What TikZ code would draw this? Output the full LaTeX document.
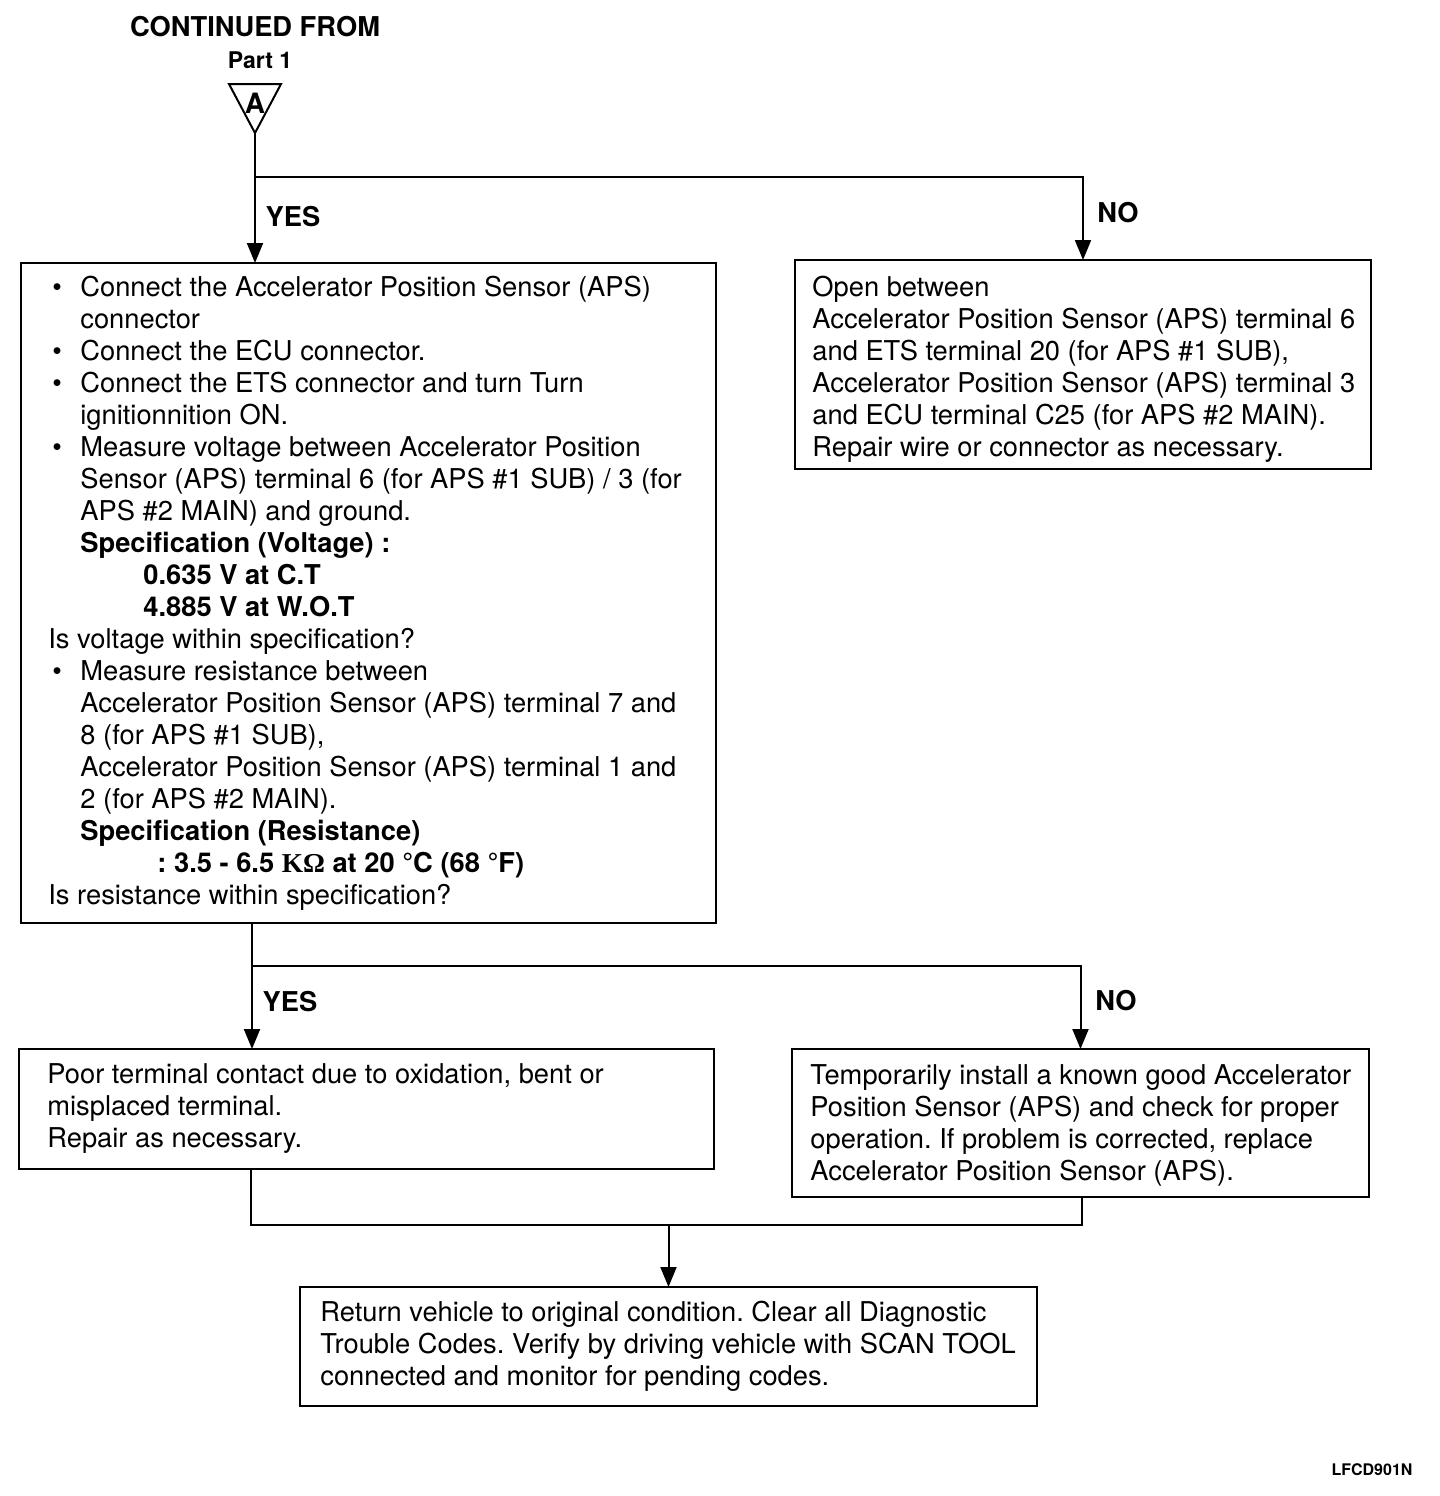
\documentclass[tikz,border=0pt]{standalone}
\usepackage{fontspec}
\setmainfont{TeX Gyre Heros}
\newfontfamily\serifbold{Liberation Serif}
\usetikzlibrary{arrows.meta}
\frenchspacing
\newcommand\mybul{\hspace*{2pt}\makebox[14pt][l]{•}}
\newcommand\myind{\hspace*{16pt}}
\begin{document}
\begin{tikzpicture}[x=0.5pt,y=0.5pt,
  every node/.style={font=\fontsize{13.65}{16}\selectfont},
  box/.style={draw, line width=1pt, inner sep=0pt, outer sep=0pt},
  txt/.style={anchor=west, align=left, inner sep=0pt},
  lab/.style={font=\fontsize{13.65}{16}\selectfont\bfseries, inner sep=0pt},
  conn/.style={line width=1pt},
  arr/.style={line width=1pt, -{Triangle[length=10pt,width=8pt]}}]
\useasboundingbox (0,0) rectangle (1440,-1496);

% header
\node[lab] (cont) at (255,-27) {CONTINUED FROM};
\node[inner sep=0pt, font=\fontsize{11.5}{14}\selectfont\bfseries] (part) at (260,-60) {Part 1};
\draw[line width=1pt, line join=miter] (229,-84) -- (281,-84) -- (255,-133) -- cycle;
\node[lab, font=\fontsize{14}{16}\selectfont\bfseries] (tA) at (255,-103) {A};
\coordinate (apex) at (255,-133);

% boxes
\node[box, minimum width=347.5pt, minimum height=330pt] (b1) at (368.5,-593) {};
\node[box, minimum width=288pt, minimum height=104.5pt] (b2) at (1083,-364.5) {};
\node[box, minimum width=347.5pt, minimum height=60pt] (b3) at (366.5,-1109) {};
\node[box, minimum width=288.5pt, minimum height=74pt] (b4) at (1080.5,-1123) {};
\node[box, minimum width=368.5pt, minimum height=59.5pt] (b5) at (668.5,-1346.5) {};

% texts
\node[txt] (t1) at (48,-593) {%
\mybul Connect the Accelerator Position Sensor (APS)\\
\myind connector\\
\mybul Connect the ECU connector.\\
\mybul Connect the ETS connector and turn Turn\\
\myind ignitionnition ON.\\
\mybul Measure voltage between Accelerator Position\\
\myind Sensor (APS) terminal 6 (for APS \#1 SUB) / 3 (for\\
\myind APS \#2 MAIN) and ground.\\
\myind\textbf{Specification (Voltage) :}\\
\hspace*{47.5pt}\textbf{0.635 V at C.T}\\
\hspace*{47.5pt}\textbf{4.885 V at W.O.T}\\
Is voltage within specification?\\
\mybul Measure resistance between\\
\myind Accelerator Position Sensor (APS) terminal 7 and\\
\myind 8 (for APS \#1 SUB),\\
\myind Accelerator Position Sensor (APS) terminal 1 and\\
\myind 2 (for APS \#2 MAIN).\\
\myind\textbf{Specification (Resistance)}\\
\hspace*{54.5pt}\textbf{: 3.5 - 6.5 {\serifbold KΩ} at 20 \textdegree C (68 \textdegree F)}\\
Is resistance within specification?};

\node[txt] (t2) at (812,-369) {%
Open between\\
Accelerator Position Sensor (APS) terminal 6\\
and ETS terminal 20 (for APS \#1 SUB),\\
Accelerator Position Sensor (APS) terminal 3\\
and ECU terminal C25 (for APS \#2 MAIN).\\
Repair wire or connector as necessary.};

\node[txt] (t3) at (47,-1109) {%
Poor terminal contact due to oxidation, bent or\\
misplaced terminal.\\
Repair as necessary.};

\node[txt] (t4) at (810,-1125) {%
Temporarily install a known good Accelerator\\
Position Sensor (APS) and check for proper\\
operation. If problem is corrected, replace\\
Accelerator Position Sensor (APS).};

\node[txt] (t5) at (320,-1346.5) {%
Return vehicle to original condition. Clear all Diagnostic\\
Trouble Codes. Verify by driving vehicle with SCAN TOOL\\
connected and monitor for pending codes.};

% connectors, first decision
\coordinate (j1) at (255,-177);
\draw[arr] (apex) -- (apex |- b1.north);
\draw[arr] (j1) -| (b2.north);
\node[lab] (y1) at (293,-217) {YES};
\node[lab] (n1) at (1118,-213) {NO};

% second decision
\coordinate (s2) at (252,-923);
\coordinate (j2) at (252,-966);
\draw[arr] (s2) -- (s2 |- b3.north);
\draw[arr] (j2) -| (b4.north);
\node[lab] (y2) at (290,-1002) {YES};
\node[lab] (n2) at (1116,-1001) {NO};

% merge
\coordinate (m1) at (251,-1225);
\coordinate (m2) at (1082,-1225);
\draw[conn] (b3.south -| m1) -- (m1) -- (m2) -- (b4.south -| m2);
\draw[arr] (m1 -| b5.north) -- (b5.north);

\node[inner sep=0pt, font=\fontsize{8}{10}\selectfont\bfseries] (code) at (1372,-1470) {LFCD901N};
\end{tikzpicture}
\end{document}
